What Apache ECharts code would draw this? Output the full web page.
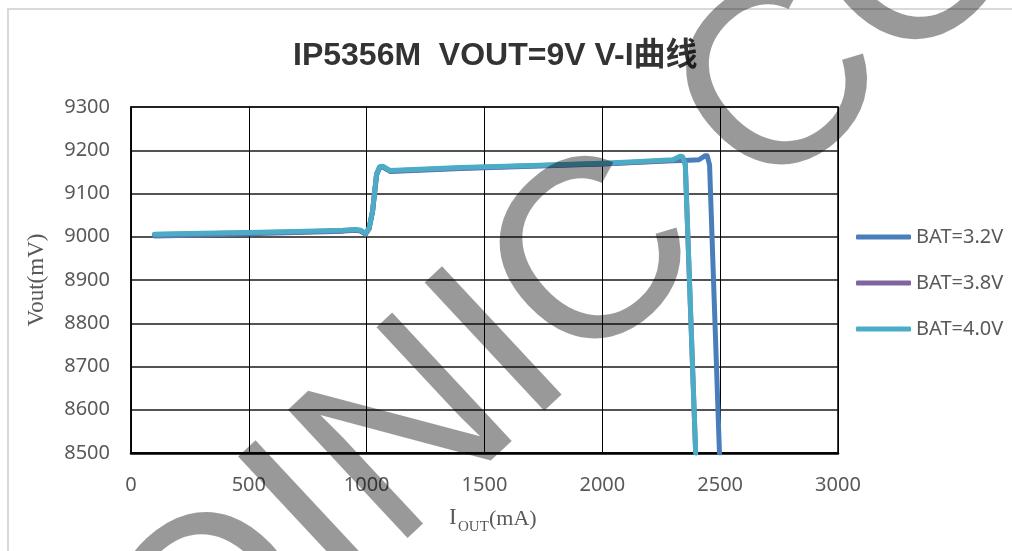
<!DOCTYPE html>
<html>
<head>
<meta charset="utf-8">
<script src="https://cdn.jsdelivr.net/npm/echarts@6/dist/echarts.min.js"></script>
<style>
html,body{margin:0;padding:0;background:#fff;}
#chart{width:1012px;height:551px;}
</style>
</head>
<body>
<div id="chart"></div>
<script>
const titleText = 'IP5356M  VOUT=9V V-I曲线';
const seriesNames = ['BAT=3.2V', 'BAT=3.8V', 'BAT=4.0V'];
const seriesColors = ['#4a7ebb', '#8064a2', '#4bacc6'];
const xTicks = { min: 0, max: 3000, interval: 500 };
const yTicks = { min: 8500, max: 9300, interval: 100 };

// [I_OUT (mA), Vout (mV)]
const bat32 = [[100,9002],[300,9004],[500,9007],[700,9010],[900,9013],[950,9015],[975,9013],[995,9006],[1010,9018],[1025,9058],[1042,9143],[1055,9160],[1068,9161],[1100,9151],[1400,9158],[1700,9163],[2000,9168],[2160,9172],[2300,9176],[2370,9177],[2410,9178],[2435,9187],[2445,9187],[2455,9166],[2497,8500]];
const bat38 = [[100,9005],[300,9007],[500,9009],[700,9011],[900,9014],[950,9016],[975,9014],[995,9007],[1010,9019],[1025,9059],[1042,9144],[1055,9161],[1068,9162],[1100,9152],[1400,9159],[1700,9164],[2000,9169],[2160,9173],[2300,9177],[2330,9185],[2340,9184],[2352,9167],[2396,8500]];
const bat40 = [[100,9006],[300,9008],[500,9010],[700,9012],[900,9015],[950,9017],[975,9015],[995,9008],[1010,9020],[1025,9060],[1042,9145],[1055,9162],[1068,9163],[1100,9153],[1400,9160],[1700,9165],[2000,9170],[2160,9174],[2300,9178],[2330,9186],[2340,9185],[2352,9168],[2396,8500]];
const seriesData = [bat32, bat38, bat40];

const watermarkText = 'INJOINIC CORP';

const chart = echarts.init(document.getElementById('chart'), null, {renderer: 'canvas'});
const labelFont = '"Noto Sans", "Open Sans", sans-serif';

chart.setOption({
  backgroundColor: '#fff',
  animation: false,
  title: {
    text: titleText,
    left: 288,
    top: 35,
    textStyle: {
      fontFamily: '"Liberation Sans", "Noto Sans CJK SC", sans-serif',
      fontSize: 32,
      fontWeight: 'bold',
      color: '#333'
    }
  },
  grid: {
    left: 131, right: 174, top: 107, bottom: 98,
    show: true, borderColor: '#000', borderWidth: 1.5, backgroundColor: 'transparent'
  },
  legend: {
    orient: 'vertical',
    left: 851,
    top: 222,
    itemGap: 26,
    itemWidth: 55,
    itemHeight: 5,
    icon: 'roundRect',
    textStyle: { fontFamily: labelFont, fontSize: 20, color: '#595959' },
    data: seriesNames
  },
  xAxis: {
    type: 'value',
    min: xTicks.min, max: xTicks.max, interval: xTicks.interval,
    axisLine: { show: true, lineStyle: { color: '#000', width: 2.5 } },
    axisTick: { show: false },
    axisLabel: { margin: 22, fontFamily: labelFont, fontSize: 20, color: '#595959', formatter: v => String(v) },
    splitLine: { show: true, lineStyle: { color: '#000', width: 1 } }
  },
  yAxis: {
    type: 'value',
    min: yTicks.min, max: yTicks.max, interval: yTicks.interval,
    name: 'Vout(mV)',
    nameLocation: 'middle',
    nameGap: 83,
    nameTextStyle: { fontFamily: '"Liberation Serif", serif', fontSize: 23, color: '#595959' },
    axisLine: { show: true, lineStyle: { color: '#000', width: 1.5 } },
    axisTick: { show: false },
    axisLabel: { margin: 21, fontFamily: labelFont, fontSize: 20, color: '#595959', formatter: v => String(v) },
    splitLine: { show: true, lineStyle: { color: '#1a1a1a', width: 1.5 } }
  },
  series: seriesNames.map((n, i) => ({
    name: n,
    type: 'line',
    data: seriesData[i],
    symbol: 'none',
    color: seriesColors[i],
    lineStyle: { width: 5, color: seriesColors[i], cap: 'round', join: 'round' },
    z: 2 + i
  })),
  graphic: [
    { type: 'rect', shape: { x: 8, y: 9, width: 1100, height: 600 },
      style: { fill: 'none', stroke: '#d9d9d9', lineWidth: 2 }, z: 0, silent: true },
    { type: 'text', x: 449, y: 529,
      style: { text: 'I', font: '23px "Liberation Serif", serif', fill: '#595959', textVerticalAlign: 'bottom' } },
    { type: 'text', x: 458, y: 535,
      style: { text: 'OUT', font: '15px "Liberation Serif", serif', fill: '#595959', textVerticalAlign: 'bottom' } },
    { type: 'text', x: 489, y: 530,
      style: { text: '(mA)', font: '22px "Liberation Serif", serif', fill: '#595959', textVerticalAlign: 'bottom' } },
    { type: 'text', x: 562, y: 298, rotation: 43 * Math.PI / 180, z: 100, silent: true,
      style: { text: watermarkText, font: '255px "Liberation Sans", Arial, sans-serif',
        fill: 'rgba(0,0,0,0.4)', textAlign: 'center', textVerticalAlign: 'middle' } }
  ]
});
</script>
</body>
</html>
